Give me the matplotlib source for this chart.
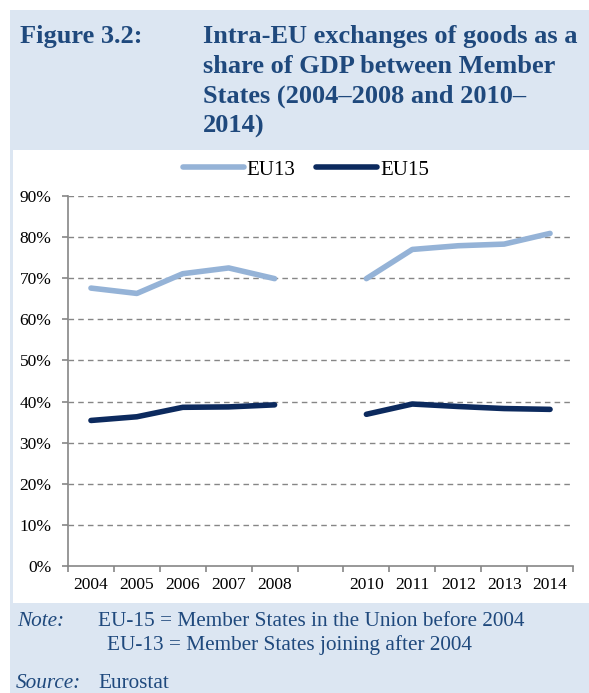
import matplotlib
matplotlib.use("Agg")
import matplotlib.pyplot as plt
import numpy as np
from matplotlib.patches import Rectangle
from matplotlib.lines import Line2D

years = ["2004", "2005", "2006", "2007", "2008", "", "2010", "2011", "2012", "2013", "2014"]
eu13 = [67.6, 66.3, 71.1, 72.5, 69.9, None, 69.9, 77.0, 77.9, 78.3, 80.9]
eu15 = [35.4, 36.3, 38.6, 38.7, 39.2, None, 36.9, 39.4, 38.8, 38.3, 38.1]
yticks = [0, 10, 20, 30, 40, 50, 60, 70, 80, 90]

W, H = 589, 693
fig = plt.figure(figsize=(W / 100, H / 100), dpi=100)
fig.patch.set_facecolor("white")

def fx(px):
    return px / W

def fy(py):
    return 1 - py / H

# background boxes
fig.patches.append(Rectangle((fx(10), 0), fx(579), fy(10), transform=fig.transFigure,
                             facecolor="#dce6f2", edgecolor="none", zorder=-2))
fig.patches.append(Rectangle((fx(13), fy(603)), fx(576), fy(150) - fy(603), transform=fig.transFigure,
                             facecolor="white", edgecolor="none", zorder=-1))

title_color = "#1f497d"
serif = ["Liberation Serif", "DejaVu Serif"]
fig.text(fx(20), fy(25), "Figure 3.2:", fontsize=19, fontweight="bold", color=title_color,
         family=serif, va="top", ha="left")
fig.text(fx(203), fy(25), "Intra-EU exchanges of goods as a\nshare of GDP between Member\nStates (2004\u20132008 and 2010\u2013\n2014)",
         fontsize=19, fontweight="bold", color=title_color, family=serif, va="top", ha="left",
         linespacing=1.38)

ax = fig.add_axes([fx(68), fy(566), fx(573) - fx(68), fy(196) - fy(566)])
ax.set_facecolor("none")
x = np.arange(len(years))
e13 = np.array([np.nan if v is None else v for v in eu13], dtype=float)
e15 = np.array([np.nan if v is None else v for v in eu15], dtype=float)
ax.plot(x, e13, color="#95b3d7", lw=4, solid_capstyle="round", solid_joinstyle="round", zorder=3)
ax.plot(x, e15, color="#0c2a5e", lw=4, solid_capstyle="round", solid_joinstyle="round", zorder=3)

ax.set_xlim(-0.5, len(years) - 0.5)
ax.set_ylim(0, 90)
ax.set_yticks(yticks)
ax.set_yticklabels([f"{v}%" for v in yticks])
ax.set_xticks(x)
ax.set_xticklabels(years)
ax.set_xticks(np.arange(-0.5, len(years)), minor=True)
ax.tick_params(axis="x", which="major", length=0, pad=8)
ax.tick_params(axis="x", which="minor", length=4, color="#868686", width=1.2)
ax.tick_params(axis="y", length=4, color="#868686", width=1.2, pad=8, direction="out")
for lab in ax.get_xticklabels() + ax.get_yticklabels():
    lab.set_family(serif)
    lab.set_fontsize(12.5)
    lab.set_color("black")
for t in yticks[1:]:
    ax.axhline(t, color="#868686", lw=1, ls=(0, (4, 3)), zorder=1)
for s in ["top", "right"]:
    ax.spines[s].set_visible(False)
ax.spines["left"].set_color("#868686")
ax.spines["bottom"].set_color("#868686")
ax.spines["left"].set_linewidth(1.2)
ax.spines["bottom"].set_linewidth(1.2)

handles = [Line2D([], [], color="#95b3d7", lw=4, solid_capstyle="round"),
           Line2D([], [], color="#0c2a5e", lw=4, solid_capstyle="round")]
fig.legend(handles, ["EU13", "EU15"], loc="center", bbox_to_anchor=(fx(306), fy(170)),
           ncol=2, frameon=False, prop={"family": serif, "size": 15},
           handlelength=2.9, handletextpad=0.15, columnspacing=1.0)

nfs = 15.3
fig.text(fx(17), fy(622), "Note:", fontsize=nfs, style="italic", color=title_color, family=serif, va="center")
fig.text(fx(98), fy(622), "EU-15 = Member States in the Union before 2004", fontsize=nfs,
         color=title_color, family=serif, va="center")
fig.text(fx(107), fy(645), "EU-13 = Member States joining after 2004", fontsize=nfs,
         color=title_color, family=serif, va="center")
fig.text(fx(16), fy(683), "Source:", fontsize=nfs, style="italic", color=title_color, family=serif, va="center")
fig.text(fx(98), fy(683), "Eurostat", fontsize=nfs, color=title_color, family=serif, va="center")

fig.savefig("out.png", dpi=100)
